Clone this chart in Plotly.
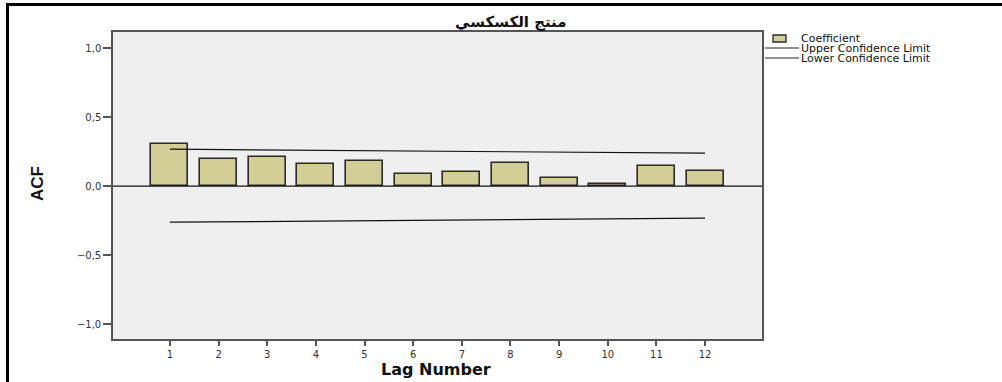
import plotly.graph_objects as go

lags = [1, 2, 3, 4, 5, 6, 7, 8, 9, 10, 11, 12]
coefficient = [0.308, 0.193, 0.212, 0.157, 0.178, 0.087, 0.103, 0.168, 0.056, 0.014, 0.142, 0.106]
upper_limit = [0.267, 0.264, 0.262, 0.259, 0.256, 0.254, 0.251, 0.249, 0.246, 0.243, 0.241, 0.238]
lower_limit = [-0.262, -0.259, -0.257, -0.254, -0.251, -0.249, -0.246, -0.243, -0.241, -0.238, -0.236, -0.233]
y_ticks = [-1.0, -0.5, 0.0, 0.5, 1.0]
title_text = "منتج الكسكسي"
x_title = "Lag Number"
y_title = "ACF"
legend_labels = ["Coefficient", "Upper Confidence Limit", "Lower Confidence Limit"]

W, H = 1002, 382
L, R, T, B = 113, 762, 32, 339
BAR_FILL = "#D3CD96"


def px(x):
    return (x - L) / (R - L)


def py(y):
    return (B - y) / (B - T)


fig = go.Figure()
fig.add_trace(go.Bar(x=lags, y=coefficient, width=0.76,
                     marker=dict(color=BAR_FILL, line=dict(color="#2a2a2a", width=1.6)),
                     name=legend_labels[0], showlegend=False))
fig.add_trace(go.Scatter(x=lags, y=upper_limit, mode="lines", line=dict(color="#111", width=1.2),
                         name=legend_labels[1], showlegend=False))
fig.add_trace(go.Scatter(x=lags, y=lower_limit, mode="lines", line=dict(color="#111", width=1.2),
                         name=legend_labels[2], showlegend=False))

shapes = []
# zero line
shapes.append(dict(type="line", xref="paper", yref="y", x0=0, x1=1, y0=0, y1=0,
                   line=dict(color="#111", width=1.2)))
# outer frame
shapes.append(dict(type="line", xref="paper", yref="paper", x0=px(6), x1=px(1002), y0=py(4.5), y1=py(4.5),
                   line=dict(color="#000", width=3)))
shapes.append(dict(type="line", xref="paper", yref="paper", x0=px(7.5), x1=px(7.5), y0=py(3), y1=py(382),
                   line=dict(color="#000", width=3)))
# legend swatch and lines
shapes.append(dict(type="rect", xref="paper", yref="paper", x0=px(773), x1=px(786), y0=py(35), y1=py(42),
                   fillcolor=BAR_FILL, line=dict(color="#2a2a2a", width=1.3)))
for yy in (48, 58):
    shapes.append(dict(type="line", xref="paper", yref="paper", x0=px(765), x1=px(799), y0=py(yy), y1=py(yy),
                       line=dict(color="#222", width=1.1)))

annotations = [
    dict(text="<b>" + title_text + "</b>", xref="paper", yref="paper", x=px(511), y=py(22), showarrow=False,
         font=dict(family="DejaVu Sans", size=15, color="#111"), xanchor="center", yanchor="middle"),
    dict(text="<b>" + x_title + "</b>", xref="paper", yref="paper", x=px(436), y=py(369), showarrow=False,
         font=dict(family="DejaVu Sans", size=16, color="#111"), xanchor="center", yanchor="middle"),
    dict(text="<b>" + y_title + "</b>", xref="paper", yref="paper", x=px(37), y=py(184), showarrow=False,
         textangle=-90,
         font=dict(family="Liberation Sans Narrow, Liberation Sans", size=17, color="#111"),
         xanchor="center", yanchor="middle"),
]
for lab, yy in zip(legend_labels, (38, 48, 58)):
    annotations.append(dict(text=lab, xref="paper", yref="paper", x=px(800), y=py(yy), showarrow=False,
                            font=dict(family="DejaVu Sans", size=11, color="#111"),
                            xanchor="left", yanchor="middle", borderpad=0))

fig.update_layout(
    width=W, height=H,
    margin=dict(l=L, r=W - R, t=T, b=H - B, autoexpand=False),
    paper_bgcolor="white",
    plot_bgcolor="#EFEFEF",
    separators=",.",
    shapes=shapes,
    annotations=annotations,
    bargap=0,
    font=dict(family="DejaVu Sans", color="#222"),
)
fig.update_xaxes(range=[-0.17, 13.17], tickvals=lags, ticktext=[str(v) for v in lags], automargin=False,
                 showgrid=False, zeroline=False, showline=True, linecolor="#555", linewidth=1.5, mirror=True,
                 ticks="outside", ticklen=5, tickwidth=2, tickcolor="#555",
                 tickfont=dict(family="DejaVu Sans", size=10, color="#333"))
fig.update_yaxes(range=[-1.108, 1.116], tickvals=y_ticks, tickformat=".1f", automargin=False,
                 showgrid=False, zeroline=False, showline=True, linecolor="#555", linewidth=1.5, mirror=True,
                 ticks="outside", ticklen=8, tickwidth=1.5, tickcolor="#555",
                 tickfont=dict(family="DejaVu Sans", size=10, color="#333"))

fig.write_html("out.html", config={"displayModeBar": False},
               post_script="document.body.style.margin='0px';")
